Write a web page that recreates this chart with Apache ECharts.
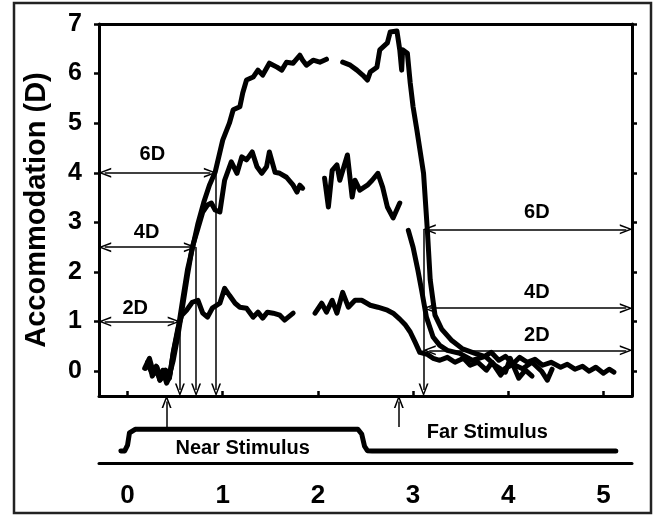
<!DOCTYPE html>
<html><head><meta charset="utf-8">
<script src="https://cdn.jsdelivr.net/npm/echarts@6/dist/echarts.min.js"></script>
<style>html,body{margin:0;padding:0;background:#fff}#c{width:654px;height:516px}</style>
</head><body><div id="c"></div>
<script>
// ---- data (time in s, accommodation in D) ----
const xTicks = [0, 1, 2, 3, 4, 5];
const yTicks = [0, 1, 2, 3, 4, 5, 6, 7];

const curve2D = [[0.19,0.06],[0.23,0.20],[0.26,-0.10],[0.30,0.04],[0.34,-0.18],[0.39,-0.06],[0.44,-0.14],[0.48,0.38],[0.53,0.87],[0.57,1.13],[0.62,1.23],[0.68,1.39],[0.74,1.43],[0.79,1.17],[0.84,1.09],[0.89,1.27],[0.97,1.37],[1.02,1.67],[1.07,1.53],[1.13,1.37],[1.18,1.29],[1.25,1.27],[1.32,1.09],[1.37,1.19],[1.42,1.07],[1.47,1.19],[1.53,1.17],[1.60,1.13],[1.65,1.03],[1.74,1.17],[1.85,'-'],[1.97,1.17],[2.04,1.37],[2.09,1.19],[2.15,1.43],[2.20,1.17],[2.26,1.59],[2.32,1.29],[2.39,1.43],[2.46,1.43],[2.55,1.33],[2.63,1.29],[2.73,1.23],[2.79,1.17],[2.86,1.05],[2.92,0.93],[2.97,0.79],[3.02,0.59],[3.07,0.38],[3.15,0.34],[3.21,0.26],[3.28,0.22],[3.36,0.28],[3.44,0.18],[3.53,0.26],[3.60,0.12],[3.68,0.18],[3.77,0.02],[3.83,0.18],[3.92,-0.08],[3.97,0.06],[4.05,0.14],[4.15,0.05],[4.25,0.18],[4.35,0.00],[4.41,-0.18],[4.46,0.04]];

const curve4D = [[0.21,0.18],[0.25,-0.02],[0.30,0.10],[0.35,-0.14],[0.40,0.02],[0.44,-0.08],[0.48,0.22],[0.53,0.73],[0.58,1.33],[0.63,1.94],[0.68,2.50],[0.74,2.88],[0.79,3.21],[0.84,3.35],[0.88,3.39],[0.92,3.25],[0.97,3.21],[1.02,3.85],[1.09,4.22],[1.15,3.99],[1.20,4.32],[1.25,4.26],[1.31,4.42],[1.36,4.12],[1.41,3.99],[1.46,4.12],[1.49,4.42],[1.55,4.01],[1.60,3.99],[1.67,3.91],[1.74,3.75],[1.78,3.61],[1.81,3.75],[1.84,3.69],[1.95,'-'],[2.07,3.89],[2.11,3.31],[2.15,4.05],[2.20,4.16],[2.23,3.85],[2.31,4.36],[2.36,3.51],[2.39,3.85],[2.44,3.65],[2.52,3.75],[2.57,3.85],[2.63,3.99],[2.68,3.71],[2.73,3.31],[2.79,3.09],[2.86,3.39],[2.90,'-'],[2.95,2.84],[3.00,2.50],[3.05,2.04],[3.09,1.63],[3.14,1.09],[3.21,0.69],[3.28,0.52],[3.36,0.42],[3.49,0.36],[3.62,0.22],[3.76,0.30],[3.86,0.12],[3.97,-0.02],[4.02,0.26],[4.11,-0.14],[4.18,0.02],[4.25,-0.10]];

const curve6D = [[0.18,0.06],[0.23,0.26],[0.27,-0.02],[0.31,0.08],[0.34,-0.18],[0.37,0.02],[0.41,-0.24],[0.44,-0.12],[0.48,0.36],[0.53,0.83],[0.58,1.45],[0.63,2.05],[0.69,2.55],[0.74,2.98],[0.80,3.40],[0.86,3.75],[0.92,4.01],[1.00,4.66],[1.07,5.00],[1.11,5.27],[1.18,5.33],[1.21,5.61],[1.25,5.87],[1.32,5.93],[1.37,6.07],[1.42,5.97],[1.49,6.21],[1.57,6.13],[1.62,6.07],[1.67,6.23],[1.74,6.21],[1.81,6.37],[1.84,6.27],[1.88,6.17],[1.95,6.27],[2.02,6.23],[2.09,6.29],[2.17,'-'],[2.26,6.23],[2.34,6.17],[2.41,6.07],[2.47,5.97],[2.52,5.87],[2.55,6.03],[2.62,6.13],[2.65,6.48],[2.73,6.62],[2.76,6.84],[2.83,6.86],[2.86,6.48],[2.88,6.07],[2.89,6.48],[2.94,6.41],[2.97,5.81],[3.00,5.33],[3.04,4.86],[3.11,3.99],[3.15,2.84],[3.18,1.84],[3.23,1.13],[3.30,0.85],[3.40,0.63],[3.52,0.45],[3.65,0.36],[3.75,0.30],[3.82,0.38],[3.90,0.22],[3.97,0.30],[4.05,0.15],[4.12,0.28],[4.20,0.18],[4.28,0.24],[4.36,0.12],[4.45,0.18],[4.55,0.08],[4.62,0.14],[4.70,0.04],[4.78,0.10],[4.85,0.00],[4.92,0.08],[5.00,-0.04],[5.06,0.04],[5.11,-0.02]];

const stimulus = [[-0.07,1.07],[-0.03,1.08],[0.00,1.6],[0.02,2.7],[0.08,3.02],[2.42,3.02],[2.46,2.6],[2.49,1.5],[2.52,1.1],[2.57,1.07],[5.13,1.07]];
const stimArrowX = [0.41, 2.85];

// left-side onset markers: level reached and the time it was reached
const leftLevels = [1, 2.5, 4];
const leftTimes = [0.55, 0.72, 0.93];
const leftNames = ['2D', '4D', '6D'];
const leftLabelPos = [[0.08, 1.27], [0.20, 2.80], [0.26, 4.36]];
// right-side markers
const rightLevels = [0.42, 1.27, 2.86];
const rightTime = 3.11;
const rightNames = ['2D', '4D', '6D'];
const rightLabelPos = [[4.30, 0.73], [4.30, 1.59], [4.30, 3.19]];

const X_MIN = -0.3, X_MAX = 5.3, Y_MIN = -0.5, Y_MAX = 7;
const insetX = 0.06, insetY = 0.12;

const arrow = 'path://M5,0L10,12L8.3,12L5,3.6L1.7,12L0,12Z';
const FONT = '"Liberation Sans", Arial, Helvetica, sans-serif';

const lines = [];
leftLevels.forEach((lv, i) => {
  lines.push([{coord: [X_MIN + insetX, lv], symbol: arrow}, {coord: [leftTimes[i] - insetX, lv], symbol: arrow}]);
  lines.push([{coord: [leftTimes[i], lv], symbol: 'none'}, {coord: [leftTimes[i], Y_MIN + insetY], symbol: arrow}]);
});
rightLevels.forEach((lv) => {
  lines.push([{coord: [rightTime + insetX, lv], symbol: arrow}, {coord: [X_MAX - insetX, lv], symbol: arrow}]);
});
lines.push([{coord: [rightTime, Math.max(...rightLevels)], symbol: 'none'}, {coord: [rightTime, Y_MIN + insetY], symbol: arrow}]);

const textPts = [];
leftNames.forEach((n, i) => textPts.push({name: n, coord: leftLabelPos[i]}));
rightNames.forEach((n, i) => textPts.push({name: n, coord: rightLabelPos[i]}));

const curveStyle = {color: '#000', width: 5, cap: 'round', join: 'round'};
function curve(data) {
  return {type: 'line', xAxisIndex: 0, yAxisIndex: 0, data: data, showSymbol: false, symbol: 'none',
    lineStyle: curveStyle, clip: false, silent: true, connectNulls: false};
}

const chart = echarts.init(document.getElementById('c'), null, {renderer: 'canvas'});
chart.setOption({
  animation: false,
  backgroundColor: '#fff',
  textStyle: {fontFamily: FONT},
  grid: [
    {left: 99, right: 22, top: 24, bottom: 120},
    {left: 99, right: 22, top: 396, bottom: 53}
  ],
  xAxis: [
    {type: 'value', gridIndex: 0, min: X_MIN, max: X_MAX, position: 'bottom',
      axisLine: {show: true, onZero: false, lineStyle: {color: '#000', width: 3}},
      axisTick: {show: true, inside: true, length: 5, customValues: xTicks, lineStyle: {color: '#000', width: 2.5}},
      axisLabel: {show: false, customValues: xTicks}, splitLine: {show: false}},
    {type: 'value', gridIndex: 0, min: X_MIN, max: X_MAX, position: 'top',
      axisLine: {show: true, onZero: false, lineStyle: {color: '#000', width: 3}},
      axisTick: {show: false}, axisLabel: {show: false}, splitLine: {show: false}},
    {type: 'value', gridIndex: 1, min: X_MIN, max: X_MAX, position: 'bottom',
      axisLine: {show: true, onZero: false, lineStyle: {color: '#000', width: 3}},
      axisTick: {show: false},
      axisLabel: {show: true, customValues: xTicks, margin: 20, color: '#000', fontSize: 26, fontWeight: 'bold', fontFamily: FONT},
      splitLine: {show: false}}
  ],
  yAxis: [
    {type: 'value', gridIndex: 0, min: Y_MIN, max: Y_MAX, position: 'left',
      name: 'Accommodation (D)', nameLocation: 'middle', nameRotate: 90, nameGap: 48,
      nameTextStyle: {color: '#000', fontSize: 29, fontWeight: 'bold', fontFamily: FONT},
      axisLine: {show: true, onZero: false, lineStyle: {color: '#000', width: 3}},
      axisTick: {show: true, inside: false, length: 5, customValues: yTicks, lineStyle: {color: '#000', width: 2.5}},
      axisLabel: {show: true, customValues: yTicks, margin: 17, color: '#000', fontSize: 25, fontWeight: 'bold', fontFamily: FONT},
      splitLine: {show: false}},
    {type: 'value', gridIndex: 0, min: Y_MIN, max: Y_MAX, position: 'right',
      axisLine: {show: true, onZero: false, lineStyle: {color: '#000', width: 3}},
      axisTick: {show: true, inside: false, length: 5, customValues: yTicks, lineStyle: {color: '#000', width: 2.5}},
      axisLabel: {show: false}, splitLine: {show: false}},
    {type: 'value', gridIndex: 1, min: 0, max: 6, show: false}
  ],
  graphic: [
    {type: 'rect', shape: {x: 14, y: 3, width: 637, height: 510}, style: {fill: 'none', stroke: '#222', lineWidth: 2.5}, silent: true}
  ],
  series: [
    curve(curve2D),
    curve(curve4D),
    Object.assign(curve(curve6D), {
      markLine: {silent: true, animation: false, symbolSize: [10, 13],
        lineStyle: {color: '#000', width: 1.5, type: 'solid'}, label: {show: false},
        emphasis: {disabled: true}, data: lines},
      markPoint: {silent: true, animation: false, symbol: 'circle', symbolSize: 0,
        label: {show: true, position: 'inside', formatter: '{b}', color: '#000', fontSize: 20, fontWeight: 'bold', fontFamily: FONT},
        data: textPts}
    }),
    {type: 'line', xAxisIndex: 2, yAxisIndex: 2, data: stimulus, showSymbol: false, symbol: 'none', clip: false, silent: true,
      lineStyle: {color: '#000', width: 5, cap: 'round', join: 'round'},
      markLine: {silent: true, animation: false, symbolSize: [10, 13],
        lineStyle: {color: '#000', width: 1.5, type: 'solid'}, label: {show: false},
        data: stimArrowX.map(x => [{coord: [x, 3.22], symbol: 'none'}, {coord: [x, 5.5], symbol: arrow}])},
      markPoint: {silent: true, animation: false, symbol: 'circle', symbolSize: 0,
        label: {show: true, position: 'inside', formatter: '{b}', color: '#000', fontSize: 20, fontWeight: 'bold', fontFamily: FONT},
        data: [{name: 'Near Stimulus', coord: [1.21, 1.30]}, {name: 'Far Stimulus', coord: [3.78, 2.73]}]}
    }
  ]
});
</script>
</body></html>
